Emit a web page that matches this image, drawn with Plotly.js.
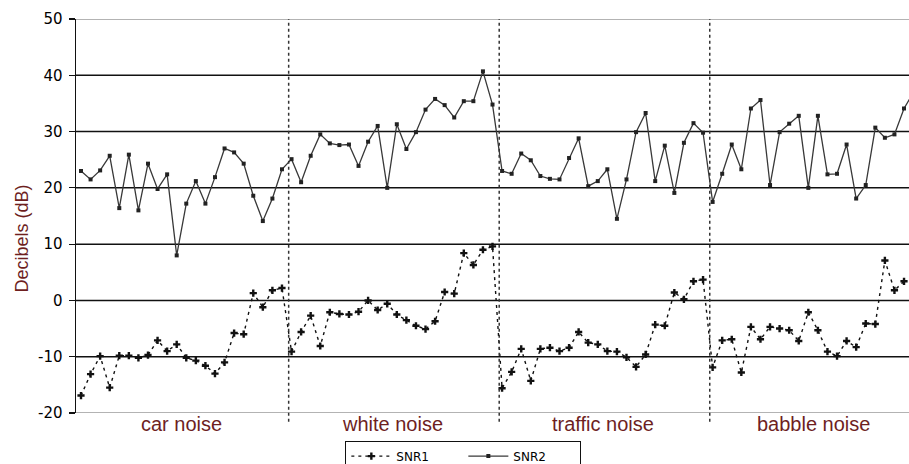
<!DOCTYPE html>
<html>
<head>
<meta charset="utf-8">
<script src="https://cdn.plot.ly/plotly-3.0.1.min.js"></script>
<style>
  html, body { margin: 0; padding: 0; background: #ffffff; overflow: hidden; }
  #chart { width: 909px; height: 464px; }
</style>
</head>
<body>
<div id="chart"></div>
<script>
// Noise conditions, 22 frames each, in plotting order
const noiseTypes = ['car noise', 'white noise', 'traffic noise', 'babble noise'];
const framesPerNoise = 22;

// SNR2 (dB) per frame
const snr2Car     = [23.0, 21.5, 23.1, 25.7, 16.4, 25.9, 16.0, 24.3, 19.8, 22.4, 8.0, 17.2, 21.2, 17.2, 21.9, 27.0, 26.3, 24.3, 18.6, 14.1, 18.1, 23.3];
const snr2White   = [25.1, 21.0, 25.7, 29.5, 27.9, 27.6, 27.7, 23.9, 28.2, 31.0, 20.0, 31.3, 26.9, 29.9, 33.9, 35.8, 34.7, 32.5, 35.4, 35.4, 40.7, 34.8];
const snr2Traffic = [23.0, 22.5, 26.1, 24.9, 22.1, 21.6, 21.5, 25.3, 28.8, 20.3, 21.2, 23.3, 14.5, 21.5, 29.9, 33.3, 21.2, 27.5, 19.1, 28.0, 31.5, 29.8];
const snr2Babble  = [17.5, 22.5, 27.7, 23.3, 34.1, 35.6, 20.5, 29.9, 31.4, 32.8, 20.0, 32.8, 22.4, 22.5, 27.7, 18.1, 20.5, 30.7, 28.9, 29.5, 34.1, 37.0];

// SNR1 (dB) per frame
const snr1Car     = [-16.9, -13.1, -9.9, -15.5, -9.8, -9.8, -10.2, -9.7, -7.1, -9.0, -7.8, -10.2, -10.7, -11.6, -13.0, -11.0, -5.8, -6.0, 1.3, -1.2, 1.8, 2.2];
const snr1White   = [-9.1, -5.6, -2.7, -8.1, -2.1, -2.4, -2.5, -2.0, 0.0, -1.7, -0.6, -2.5, -3.5, -4.5, -5.1, -3.7, 1.5, 1.2, 8.4, 6.3, 9.0, 9.6];
const snr1Traffic = [-15.6, -12.7, -8.6, -14.3, -8.6, -8.4, -9.0, -8.4, -5.6, -7.5, -7.8, -9.0, -9.1, -10.1, -11.8, -9.6, -4.3, -4.5, 1.4, 0.2, 3.4, 3.7];
const snr1Babble  = [-11.9, -7.1, -6.9, -12.8, -4.7, -6.9, -4.7, -5.0, -5.3, -7.2, -2.1, -5.3, -9.1, -9.9, -7.2, -8.3, -4.1, -4.2, 7.1, 1.8, 3.4];

// Y axis ticks
const yTickValues = [-20, -10, 0, 10, 20, 30, 40, 50];
const yTickLabels = ['-20', '-10', '0', '10', '20', '30', '40', '50'];
const yTitle = 'Decibels (dB)';

const snr1 = [].concat(snr1Car, snr1White, snr1Traffic, snr1Babble);
const snr2 = [].concat(snr2Car, snr2White, snr2Traffic, snr2Babble);
const frameIdx = arr => arr.map((_, i) => i);

const labelColor = '#6e1f1f';
const axisFont = 'Liberation Sans, Arial, sans-serif';

const traces = [
  {
    name: 'SNR1',
    x: frameIdx(snr1), y: snr1,
    type: 'scatter', mode: 'lines+markers',
    line: { color: '#111111', width: 1.4, dash: '3px,4px' },
    marker: { symbol: 'cross', size: 6, color: '#111111' },
    cliponaxis: true
  },
  {
    name: 'SNR2',
    x: frameIdx(snr2), y: snr2,
    type: 'scatter', mode: 'lines+markers',
    line: { color: '#383838', width: 1.3 },
    marker: { symbol: 'square', size: 4, color: '#222222' },
    cliponaxis: true
  }
];

// Horizontal grid: black inside, grey on the frame edges
const yMin = yTickValues[0], yMax = yTickValues[yTickValues.length - 1];
const shapes = yTickValues.map(v => ({
  type: 'line', xref: 'paper', x0: 0, x1: 1, yref: 'y', y0: v, y1: v,
  line: { color: (v === yMin || v === yMax) ? '#9a9a9a' : '#111111', width: 1.5 },
  layer: 'below'
}));

// Dotted separators between noise conditions
for (let k = 1; k < noiseTypes.length; k++) {
  const xb = k * framesPerNoise - 0.3;
  shapes.push({
    type: 'line', xref: 'x', x0: xb, x1: xb, yref: 'paper', y0: -0.022, y1: 1,
    line: { color: '#333333', width: 1.5, dash: 'dot' },
    layer: 'above'
  });
}

// Condition names under each block
const annotations = noiseTypes.map((name, k) => ({
  text: name,
  xref: 'x', x: k * framesPerNoise + (framesPerNoise - 1) / 2,
  yref: 'paper', y: -0.027, yanchor: 'middle', xanchor: 'center',
  showarrow: false,
  font: { family: axisFont, size: 20, color: labelColor }
}));

// Vertical axis title, left of the tick labels
annotations.push({
  text: yTitle,
  xref: 'paper', x: 0, xshift: -54, xanchor: 'center',
  yref: 'y', y: 11, yanchor: 'middle',
  textangle: -90, showarrow: false,
  font: { family: axisFont, size: 18, color: labelColor }
});

const layout = {
  width: 909, height: 464,
  margin: { l: 76, r: 0, t: 19, b: 51, autoexpand: false },
  paper_bgcolor: '#ffffff', plot_bgcolor: '#ffffff',
  showlegend: true,
  legend: {
    orientation: 'h', xref: 'paper', yref: 'paper',
    x: 0.465, xanchor: 'center', y: -0.07, yanchor: 'top',
    bordercolor: '#111111', borderwidth: 1, bgcolor: '#ffffff',
    font: { family: 'DejaVu Sans, sans-serif', size: 12, color: '#000000' },
    entrywidth: 62, itemwidth: 40, tracegroupgap: 0
  },
  xaxis: {
    range: [-0.522, 86.52],
    showgrid: false, zeroline: false, showline: false,
    showticklabels: false, ticks: '', fixedrange: true
  },
  yaxis: {
    range: [yMin, yMax],
    tickvals: yTickValues, ticktext: yTickLabels,
    showgrid: false, zeroline: false,
    showline: true, linecolor: '#111111', linewidth: 1.5,
    ticks: 'outside', ticklen: 6, tickcolor: '#111111', tickwidth: 1.2,
    ticklabelstandoff: 3,
    tickfont: { family: 'DejaVu Sans, sans-serif', size: 15, color: '#000000' },
    fixedrange: true
  },
  shapes: shapes,
  annotations: annotations
};

Plotly.newPlot('chart', traces, layout, { displayModeBar: false, staticPlot: true });
</script>
</body>
</html>
